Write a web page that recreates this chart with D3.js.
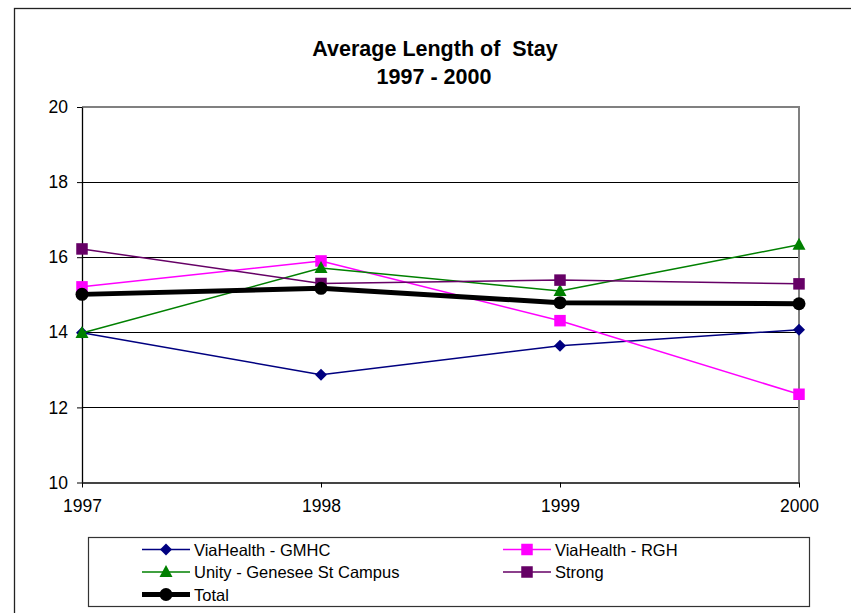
<!DOCTYPE html>
<html>
<head>
<meta charset="utf-8">
<script src="https://cdn.jsdelivr.net/npm/d3@7"></script>
<style>
  html, body { margin: 0; padding: 0; background: #fff; }
  svg { display: block; font-family: "Liberation Sans", Arial, sans-serif; }
</style>
</head>
<body>
<svg id="chart" width="851" height="613"></svg>
<script>
const years = ["1997", "1998", "1999", "2000"];
const gmhc   = [13.99, 12.87, 13.64, 14.07];
const rgh    = [15.21, 15.90, 14.31, 12.35];
const unity  = [13.98, 15.71, 15.10, 16.33];
const strong = [16.22, 15.30, 15.39, 15.29];
const total  = [15.01, 15.17, 14.79, 14.76];
const yTicks = [10, 12, 14, 16, 18, 20];
const titleLines = ["Average Length of  Stay", "1997 - 2000"];

const seriesDefs = [
  { name: "ViaHealth - GMHC", values: gmhc, color: "#000080", shape: "diamond", width: 1.5 },
  { name: "ViaHealth - RGH", values: rgh, color: "#FF00FF", shape: "square", width: 1.5 },
  { name: "Unity - Genesee St Campus", values: unity, color: "#008000", shape: "triangle", width: 1.5 },
  { name: "Strong", values: strong, color: "#660066", shape: "square", width: 1.5 },
  { name: "Total", values: total, color: "#000000", shape: "circle", width: 5 }
];

const svg = d3.select("#chart");
const plot = { left: 82, right: 799, top: 107, bottom: 482.5 };

// outer chart border
svg.append("rect").attr("x", 14.5).attr("y", 8.5).attr("width", 860).attr("height", 640)
  .attr("fill", "#fff").attr("stroke", "#222").attr("stroke-width", 1.3);

const x = d3.scalePoint().domain(years).range([plot.left, plot.right]).padding(0);
const y = d3.scaleLinear().domain([10, 20]).range([plot.bottom, plot.top]);

// title
svg.append("text").attr("x", 435).attr("y", 56).attr("text-anchor", "middle")
  .attr("font-size", 21.5).attr("font-weight", "bold").attr("xml:space", "preserve")
  .style("white-space", "pre").text(titleLines[0]);
svg.append("text").attr("x", 434).attr("y", 84).attr("text-anchor", "middle")
  .attr("font-size", 21.5).attr("font-weight", "bold").text(titleLines[1]);

// gridlines
svg.append("g").selectAll("line").data(yTicks.filter(t => t > 10 && t < 20)).join("line")
  .attr("x1", plot.left).attr("x2", plot.right)
  .attr("y1", d => Math.round(y(d)) + 0.5).attr("y2", d => Math.round(y(d)) + 0.5)
  .attr("stroke", "#000").attr("stroke-width", 1);

// plot border top & right (gray)
svg.append("path")
  .attr("d", `M${plot.left},${plot.top} H${plot.right} V${plot.bottom}`)
  .attr("fill", "none").attr("stroke", "#808080").attr("stroke-width", 2);

// y axis
const yAxis = d3.axisLeft(y).tickValues(yTicks).tickSize(5).tickSizeOuter(0).tickPadding(9);
const gy = svg.append("g").attr("transform", `translate(${plot.left},0)`).call(yAxis);
gy.select(".domain").attr("stroke", "#000").attr("stroke-width", 1.3);
gy.selectAll(".tick line").attr("stroke", "#000");
gy.selectAll("text").attr("font-size", 17.5).attr("fill", "#000")
  .attr("font-family", "'Liberation Sans', Arial, sans-serif");

// x axis
const xAxis = d3.axisBottom(x).tickSize(5).tickSizeOuter(0).tickPadding(12);
const gx = svg.append("g").attr("transform", `translate(0,${plot.bottom})`).call(xAxis);
gx.select(".domain").attr("stroke", "#444").attr("stroke-width", 2);
gx.selectAll(".tick line").attr("stroke", "#000");
gx.selectAll("text").attr("font-size", 17.5).attr("fill", "#000")
  .attr("font-family", "'Liberation Sans', Arial, sans-serif");

function drawMarker(g, shape, color, cx, cy) {
  if (shape === "diamond") {
    const r = 6;
    g.append("path").attr("d", `M${cx},${cy - r} L${cx + r},${cy} L${cx},${cy + r} L${cx - r},${cy} Z`).attr("fill", color);
  } else if (shape === "square") {
    const s = 11.5;
    g.append("rect").attr("x", cx - s / 2).attr("y", cy - s / 2).attr("width", s).attr("height", s).attr("fill", color);
  } else if (shape === "triangle") {
    const w = 13, h = 12;
    g.append("path").attr("d", `M${cx},${cy - h / 2 - 1} L${cx + w / 2},${cy + h / 2 - 1} L${cx - w / 2},${cy + h / 2 - 1} Z`).attr("fill", color);
  } else if (shape === "circle") {
    g.append("circle").attr("cx", cx).attr("cy", cy).attr("r", 6.5).attr("fill", color);
  }
}

const line = d3.line().x((d, i) => x(years[i])).y(d => y(d));
const gs = svg.append("g");
seriesDefs.forEach(s => {
  const g = gs.append("g");
  g.append("path").datum(s.values).attr("d", line)
    .attr("fill", "none").attr("stroke", s.color).attr("stroke-width", s.width)
    .attr("stroke-linejoin", "round");
  s.values.forEach((v, i) => drawMarker(g, s.shape, s.color, x(years[i]), y(v)));
});

// legend
const lg = svg.append("g");
lg.append("rect").attr("x", 88.5).attr("y", 537.5).attr("width", 721).attr("height", 69)
  .attr("fill", "#fff").attr("stroke", "#333").attr("stroke-width", 1.2);
const legendPos = [
  { x: 142, y: 549.5 }, { x: 503, y: 549.5 },
  { x: 142, y: 572 }, { x: 503, y: 572 },
  { x: 142, y: 594.5 }
];
seriesDefs.forEach((s, i) => {
  const p = legendPos[i];
  const g = lg.append("g");
  g.append("line").attr("x1", p.x).attr("x2", p.x + 48).attr("y1", p.y).attr("y2", p.y)
    .attr("stroke", s.color).attr("stroke-width", s.width);
  drawMarker(g, s.shape, s.color, p.x + 24, p.y);
  g.append("text").attr("x", p.x + 52).attr("y", p.y + 6).attr("font-size", 16.5)
    .attr("fill", "#000").text(s.name);
});
</script>
</body>
</html>
